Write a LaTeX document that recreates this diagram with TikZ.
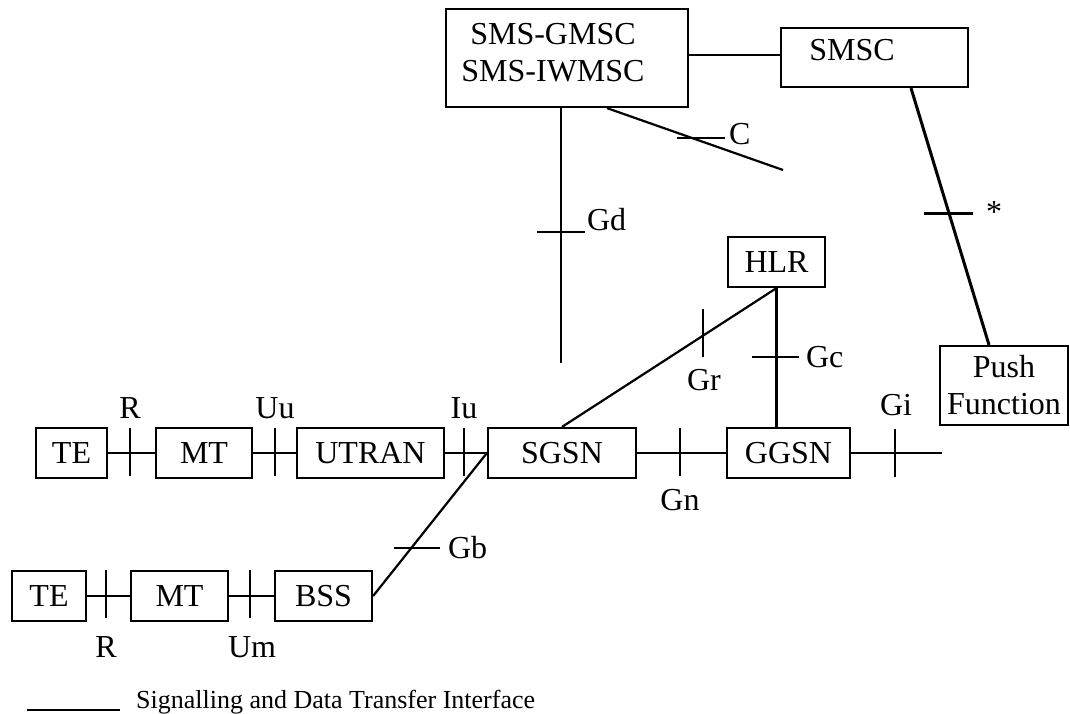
\documentclass[tikz,border=0pt]{standalone}
\usepackage{fontspec}
\setmainfont{Liberation Serif}
\begin{document}
\begin{tikzpicture}[x=1pt,y=-1pt,line width=2.2pt,
  every node/.style={font=\fontsize{32}{37}\selectfont},
  box/.style={draw,rectangle,inner sep=2pt,minimum height=50pt,align=center},
  lbl/.style={inner sep=0pt},
  thick3/.style={line width=3pt}]
\useasboundingbox (0,0) rectangle (1070,713);

% boxes
\node[box,minimum width=242pt,minimum height=98pt] (gmsc) at (567,58) {};
\node[lbl,align=center] (gmsct) at (553,53) {SMS-GMSC\\SMS-IWMSC};
\node[box,minimum width=187pt,minimum height=59pt] (smsc) at (874.5,57.5) {};
\node[lbl] (smsct) at (852,50) {SMSC};
\node[box,minimum width=128pt,minimum height=79pt] (push) at (1004,385.5) {Push\\Function};
\node[box,minimum width=97pt] (hlr) at (776.5,262) {HLR};

\node[box,minimum width=71pt] (te1) at (71.5,453) {TE};
\node[box,minimum width=96pt] (mt1) at (204,453) {MT};
\node[box,minimum width=147pt] (utran) at (370.5,453) {UTRAN};
\node[box,minimum width=148pt] (sgsn) at (562,453) {SGSN};
\node[box,minimum width=123pt] (ggsn) at (788.5,453) {GGSN};

\node[box,minimum width=74pt] (te2) at (49,596) {TE};
\node[box,minimum width=97pt] (mt2) at (179.5,596) {MT};
\node[box,minimum width=97pt] (bss) at (323.5,596) {BSS};

% free ends
\coordinate (giend) at (942,453);
\coordinate (gdtop) at ([xshift=-6pt]gmsc.south);
\coordinate (gdend) at (561,363);
\coordinate (ctop) at ([xshift=40pt]gmsc.south);
\coordinate (cend) at (783,170);

% connectors
\draw (te1.east) -- (mt1.west);
\draw (mt1.east) -- (utran.west);
\draw (utran.east) -- (sgsn.west);
\draw (sgsn.east) -- (ggsn.west);
\draw (ggsn.east) -- (giend);
\draw (te2.east) -- (mt2.west);
\draw (mt2.east) -- (bss.west);
\draw (bss.east) -- (sgsn.west);
\draw (hlr.south) -- (sgsn.north);
\draw (hlr.south) -- (hlr.south |- ggsn.north);
\draw (gmsc.east |- 0,55) -- (smsc.west |- 0,55);
\draw (gdtop) -- (gdend);
\draw (ctop) -- (cend);
\draw[thick3] ([xshift=36.5pt]smsc.south) -- ([xshift=-15pt]push.north);

% ticks
\draw (130,428) -- (130,476);
\draw (275,428) -- (275,476);
\draw (464,428) -- (464,476);
\draw (680,428) -- (680,476);
\draw (895,429) -- (895,477);
\draw (106,570) -- (106,618);
\draw (250,570) -- (250,618);
\draw (394,548) -- (440,548);
\draw (703,309) -- (703,357);
\draw (752,357) -- (799,357);
\draw (537,232) -- (585,232);
\draw (677,138) -- (725,138);
\draw[thick3] (924,213) -- (973,213);

% labels
\node[lbl] (lr1) at (130,408) {R};
\node[lbl] (luu) at (275,408) {Uu};
\node[lbl] (liu) at (464,408) {Iu};
\node[lbl] (lgn) at (680,500) {Gn};
\node[lbl] (lgi) at (896,405) {Gi};
\node[lbl] (lgr) at (704,380) {Gr};
\node[lbl,anchor=west] (lgc) at (805,357) {Gc};
\node[lbl,anchor=west] (lgd) at (586,220) {Gd};
\node[lbl,anchor=west] (lc) at (728,134) {C};
\node[lbl,anchor=west] (lst) at (985,212) {*};
\node[lbl,anchor=west] (lgb) at (447,548) {Gb};
\node[lbl] (lr2) at (106,647) {R};
\node[lbl] (lum) at (252,647) {Um};

% legend
\coordinate (lega) at (27,710);
\coordinate (legb) at (120,710);
\draw (lega) -- (legb);
\node[lbl,anchor=west,font=\fontsize{26}{30}\selectfont] (legt) at (135,702) {Signalling and Data Transfer Interface};
\end{tikzpicture}
\end{document}
